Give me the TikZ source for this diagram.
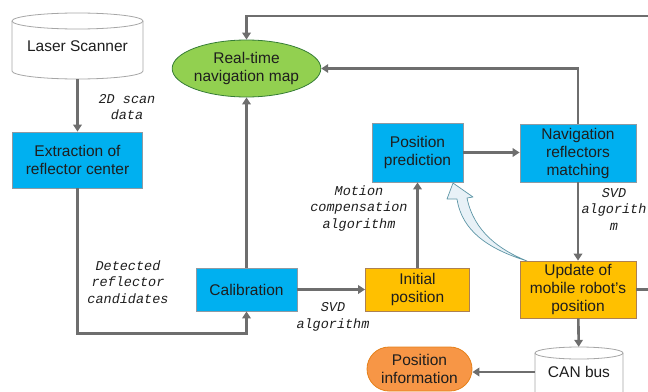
\documentclass[tikz,border=0pt]{standalone}
\usepackage{fontspec}
\setmainfont{Liberation Sans}
\newfontfamily\lblfamily{Liberation Mono}
\usetikzlibrary{arrows.meta,shapes.geometric,shapes.misc}

\definecolor{boxcyan}{HTML}{00B0F0}
\definecolor{boxyellow}{HTML}{FFC000}
\definecolor{mapgreen}{HTML}{92D050}
\definecolor{infoorange}{HTML}{F79646}
\definecolor{connGray}{HTML}{6E6E6E}
\definecolor{edgeGray}{HTML}{8E9AA3}
\definecolor{txtDark}{HTML}{1E1E1E}
\definecolor{bendFill}{HTML}{E8F1F7}
\definecolor{bendEdge}{HTML}{5E96A6}

\tikzset{
  every node/.style={text=txtDark},
  mainfont/.style={font=\fontsize{15.5}{18}\selectfont},
  blockbox/.style={rectangle, mainfont, align=center, inner sep=0pt,
    draw=edgeGray, line width=0.8pt},
  cyanbox/.style={blockbox, fill=boxcyan},
  yellowbox/.style={blockbox, fill=boxyellow, draw=gray!65!orange},
  cylnode/.style={rectangle, mainfont, inner sep=0pt},
  cylbody/.style={draw=gray!70, fill=white, line width=0.8pt},
  conn/.style={draw=connGray, line width=2.6pt,
    -{Triangle[length=7pt,width=8.5pt]}},
  plainline/.style={draw=connGray, line width=2.6pt},
  lbl/.style={align=center, inner sep=0pt,
    font=\lblfamily\itshape\fontsize{13.5}{16.5}\selectfont}
}

\begin{document}
\begin{tikzpicture}[x=1pt,y=1pt]
\useasboundingbox (0,0) rectangle (648,-391);
\clip (0,0) rectangle (648,-391);

% ---- cylinder: laser scanner ----
\draw[cylbody] (12,-21) -- (12,-71)
  arc[start angle=180,end angle=360,x radius=65.5,y radius=8]
  -- (143,-21)
  arc[start angle=0,end angle=180,x radius=65.5,y radius=8] -- cycle;
\draw[cylbody, fill=none] (12,-21)
  arc[start angle=180,end angle=360,x radius=65.5,y radius=8];
\node[cylnode, minimum width=131pt, minimum height=66pt] (scan) at (77.5,-46) {Laser Scanner};

% ---- cylinder: CAN bus ----
\draw[cylbody] (535,-353) -- (535,-410) -- (623,-410) -- (623,-353)
  arc[start angle=0,end angle=180,x radius=44,y radius=6] -- cycle;
\draw[cylbody, fill=none] (535,-353)
  arc[start angle=180,end angle=360,x radius=44,y radius=6];
\node[cylnode, minimum width=88pt, minimum height=50pt] (can) at (579,-372) {CAN bus};

% ---- process blocks ----
\node[cyanbox, minimum width=130pt, minimum height=56pt] (ext) at (77.5,-160) {Extraction of\\reflector center};
\node[cyanbox, minimum width=101pt, minimum height=43pt] (cal) at (246.5,-289.5) {Calibration};
\node[cyanbox, minimum width=91pt, minimum height=59pt] (pp) at (417.5,-152.5) {Position\\prediction};
\node[cyanbox, minimum width=116pt, minimum height=58pt] (nav) at (578,-153) {Navigation\\reflectors\\matching};
\node[yellowbox, minimum width=104pt, minimum height=43pt] (ini) at (417.5,-289.5) {Initial\\position};
\node[yellowbox, minimum width=116pt, minimum height=57pt] (upd) at (578,-289.5) {Update of\\mobile robot's\\position};

\node[ellipse, mainfont, align=center, inner sep=0pt, fill=mapgreen, draw=gray!60!green!70!black,
  line width=0.8pt, minimum width=127pt, minimum height=57pt] (map) at (246.5,-68.5) {Real-time\\navigation map};

\node[rounded rectangle, mainfont, align=center, inner sep=0pt, fill=infoorange,
  draw=orange!60!brown, line width=0.8pt, minimum width=105pt, minimum height=44pt] (pos) at (419.5,-369) {Position\\information};

% ---- free ends of the lines leaving the frame ----
\coordinate (topR) at (660,-16);
\coordinate (updR) at (660,-289.5);

% ---- connectors ----
\draw[conn] (scan) -- (ext);
\draw[conn] (ext.south) -- ++(0,-145) -| (cal.south);
\draw[conn] (cal) -- (map);
\draw[conn] (topR) -| (map.north);
\draw[conn] (nav.north) |- (map.east);
\draw[conn] (cal) -- (ini);
\draw[conn] (ini.north) -- (ini.north |- pp.south);
\draw[conn] (pp.east) -- (pp.east -| nav.west);
\draw[conn] (nav) -- (upd);
\draw[conn] (upd) -- (can);
\draw[conn] (can.west) -- (can.west -| pos.east);
\draw[plainline] (upd.east) -- (updR);

% ---- curved feedback arrow ----
\draw[fill=bendFill, draw=bendEdge, line width=0.7pt, line join=round]
  (453,-183) -- (473,-197) -- (467,-198)
  .. controls (474,-232) and (500,-250) .. (527,-261)
  -- (518,-258)
  .. controls (490,-248) and (462,-232) .. (457,-199)
  -- (447,-199) -- cycle;

% ---- labels ----
\node[lbl] (l1) at (127,-107) {2D scan\\data};
\node[lbl] (l2) at (128,-282) {Detected\\reflector\\candidates};
\node[lbl] (l3) at (333,-317) {SVD\\algorithm};
\node[lbl] (l4) at (359,-208.5) {Motion\\compensation\\algorithm};
\node[lbl] (l5) at (614,-209) {SVD\\algorith\\m};
\end{tikzpicture}
\end{document}
